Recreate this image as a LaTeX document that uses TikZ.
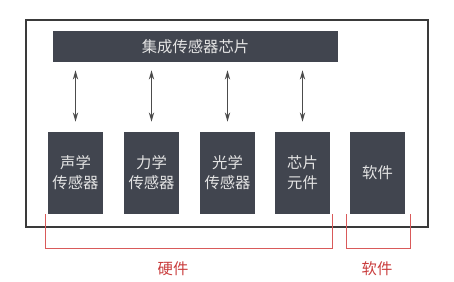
\documentclass[tikz,border=0pt]{standalone}
\usepackage{fontspec}
\newfontfamily\cjk{Noto Sans CJK SC}
\usetikzlibrary{positioning, arrows.meta}
\definecolor{chipdark}{HTML}{41454F}
\definecolor{chiptext}{HTML}{E4E4E4}
\definecolor{framegray}{HTML}{3A3A3A}
\definecolor{bracketred}{HTML}{D95A5A}
\definecolor{labelred}{HTML}{C93C3C}
\tikzset{
  >={Stealth[length=7pt, width=4pt]},
  every node/.style={font=\cjk\fontsize{11.5}{15}\selectfont},
  chipbar/.style={
    rectangle, fill=chipdark, text=chiptext,
    minimum width=213.75pt, minimum height=23.25pt, inner sep=0pt
  },
  partbox/.style={
    rectangle, fill=chipdark, text=chiptext, align=center,
    minimum width=41.25pt, minimum height=61.5pt, inner sep=0pt
  },
  frameline/.style={draw=framegray, line width=0.8pt},
  busarrow/.style={<->, gray!60!black, line width=0.9pt, shorten <=6pt, shorten >=7.5pt},
  bracket/.style={draw=bracketred, line width=0.7pt},
  grouplabel/.style={text=labelred}
}

\begin{document}
\begin{tikzpicture}[x=0.75pt, y=-0.75pt]
\useasboundingbox (0,0) rectangle (454,282);

% column x-coords (box centres)
\def\xsnd{75.5}   % acoustic sensor
\def\xfrc{151.5}  % force sensor
\def\xopt{227.5}  % optical sensor
\def\xelm{302.5}  % chip element
\def\xsw{377.5}   % software

% outer frame
\draw[frameline] (26,20) rectangle (428,227);

% integrated sensor chip
\node[chipbar] (chip) at (195.5,46.5) {集成传感器芯片};

% parts
\node[partbox] (snd) at (\xsnd,173) {声学\\传感器};
\node[partbox] (frc) at (\xfrc,173) {力学\\传感器};
\node[partbox] (opt) at (\xopt,173) {光学\\传感器};
\node[partbox] (elm) at (\xelm,173) {芯片\\元件};
\node[partbox] (sw)  at (\xsw,173)  {软件};

% chip <-> hardware parts
\foreach \p in {snd, frc, opt, elm} {
  \draw[busarrow] (chip.south -| \p.north) -- (\p.north);
}

% hardware / software brackets
\coordinate (hwL) at (45,214);
\coordinate (hwR) at (332,214);
\coordinate (swL) at (346,214);
\coordinate (swR) at (410,214);
\draw[bracket] (hwL) -- ++(0,34) -| (hwR);
\draw[bracket] (swL) -- ++(0,34) -| (swR);

\node[grouplabel] (hw) at (173,269) {硬件};
\node[grouplabel] (swlab) at (377,269) {软件};

\end{tikzpicture}
\end{document}
